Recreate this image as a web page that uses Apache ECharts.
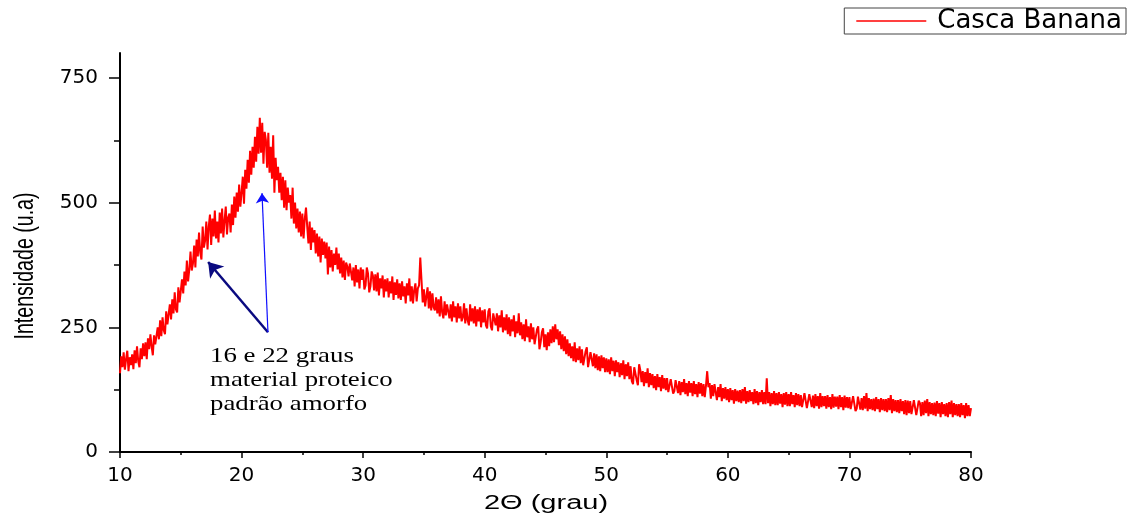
<!DOCTYPE html>
<html>
<head>
<meta charset="utf-8">
<script src="https://cdn.jsdelivr.net/npm/echarts@6/dist/echarts.min.js"></script>
<style>
html,body{margin:0;padding:0;background:#fff;}
#chart{width:1136px;height:515px;}
</style>
</head>
<body>
<div id="chart"></div>
<script>
// ---- data ----
const seriesName = 'Casca Banana';
const twoThetaStart = 10;   // degrees
const twoThetaStep = 0.1;   // degrees between readings
// intensity readings (u.a), one row per degree, 10.0 .. 80.0
const intensity = [
  158,192,170,200,165,186,203,162,190,174, // 10
  196,166,204,178,212,182,170,208,186,218, // 11
  192,220,186,228,206,236,212,194,234,216, // 12
  216,250,226,264,232,270,244,236,282,256, // 13
  258,296,266,306,278,320,286,280,330,300, // 14
  304,346,318,362,334,384,342,366,402,364, // 15
  378,414,370,426,392,440,400,386,452,410, // 16
  424,462,406,452,476,415,468,432,484,428, // 17
  462,420,480,438,488,430,464,492,436,470, // 18
  478,440,496,455,512,470,520,482,536,492, // 19
  520,552,498,566,528,586,540,604,556,612, // 20
  570,632,582,652,598,670,600,660,578,642, // 21
  626,570,640,560,612,548,635,520,590,545, // 22
  572,520,560,505,552,490,545,485,530,500, // 23
  515,468,530,458,500,448,488,440,482,432, // 24
  478,428,468,490,452,418,462,405,450,420, // 25
  445,398,438,392,432,380,428,395,422,388, // 26
  420,356,412,370,405,362,398,375,410,366, // 27
  398,358,390,350,384,345,380,372,352,378, // 28
  382,344,370,332,375,340,366,328,370,345, // 29
  366,326,334,370,358,320,332,362,354,324, // 30
  356,322,360,314,348,328,354,310,346,322, // 31
  348,310,342,318,352,305,340,315,346,308, // 32
  338,305,342,312,332,298,338,314,348,302, // 33
  332,298,325,338,302,328,334,390,345,300, // 34
  326,292,312,330,288,322,284,318,290,284, // 35
  310,278,306,272,312,280,268,302,274,296, // 36
  300,268,296,262,302,270,292,260,298,268, // 37
  292,262,270,298,258,288,264,254,296,262, // 38
  288,258,292,252,286,262,290,250,284,260, // 39
  286,254,248,282,288,252,244,278,276,254, // 40
  278,242,274,250,284,240,270,244,276,236, // 41
  270,232,266,242,274,230,262,238,278,234, // 42
  260,226,256,222,266,230,252,220,258,226, // 43
  250,216,212,246,252,206,220,240,248,210, // 44
  236,204,240,212,246,218,252,220,256,226, // 45
  246,214,242,206,236,202,232,196,226,192, // 46
  218,188,212,182,220,180,208,184,212,178, // 47
  206,174,178,202,210,170,168,200,204,172, // 48
  198,168,196,164,192,162,194,168,190,160, // 49
  188,160,186,156,190,162,183,152,184,160, // 50
  180,150,178,154,184,146,176,152,180,146, // 51
  172,142,136,170,166,144,134,176,164,140, // 52
  162,132,160,138,168,130,158,134,156,128, // 53
  152,124,156,130,150,122,154,127,148,124, // 54
  148,120,124,146,150,117,122,144,146,118, // 55
  142,114,140,120,146,116,138,112,142,119, // 56
  138,112,142,116,136,110,140,117,138,112, // 57
  136,110,133,162,130,138,107,134,112,136, // 58
  132,104,130,110,136,102,128,107,130,104, // 59
  126,100,128,104,124, 97,126,102,123,100, // 60
  124, 98,126,102,130, 97,122,100,124,102, // 61
  120, 96,126, 98,122, 94,120,100,124, 96, // 62
  120, 96,148, 98,120, 92,118, 96,122, 94, // 63
  118, 94,120, 97,116, 90,118, 95,120, 92, // 64
  116, 92,120, 96,114, 90,118, 94,116, 92, // 65
  114, 90, 94,118,114, 88, 92,116,113, 90, // 66
  113, 88,116, 92,112, 87,118, 90,112, 92, // 67
  112, 87,114, 90,110, 86,116, 89,111, 91, // 68
  111, 86,114, 90,110, 84,113, 89,110, 88, // 69
  110, 86, 88,112,108, 82, 87,111,108, 85, // 70
  108, 84,112, 87,118, 82,108, 86,106, 84, // 71
  107, 82,110, 86,106, 80,108, 84,106, 82, // 72
  106, 80,108, 84,114, 78,106, 82,104, 80, // 73
  104, 78,106, 82,102, 76,104, 74,103, 78, // 74
  102, 76, 80,104,100, 74, 78,103, 98, 72, // 75
  100, 74,103, 78,106, 72,100, 76, 98, 74, // 76
   99, 72,102, 77, 98, 70,100, 76, 96, 72, // 77
   98, 70,100, 76,103, 70, 98, 74, 96, 72, // 78
   96, 70, 98, 74, 94, 68, 98, 72, 94, 72, // 79
   88                                      // 80
];
const xTickMin = 10, xTickMax = 80, xTickInterval = 10;
const yMajorTicks = [0, 250, 500, 750];
const yMinorTicks = [125, 375, 625];
const yAxisMax = 800;
const xAxisTitle = '2\u0398 (grau)';
const yAxisTitle = 'Intensidade (u.a)';
const annotationText = ['16 e 22 graus', 'material proteico', 'padrão amorfo'];
// annotation arrows in data space: [from, to]
const arrowNavy = [[22.17, 240], [17.25, 381]];
const arrowBlue = [[22.17, 240], [21.68, 519]];

// ---- build ----
const seriesData = intensity.map((v, i) => [+(twoThetaStart + i * twoThetaStep).toFixed(1), v]);

const chart = echarts.init(document.getElementById('chart'), null, {renderer: 'canvas'});
const tickFont = 'DejaVu Sans';
chart.setOption({
  animation: false,
  backgroundColor: '#ffffff',
  grid: {left: 120, right: 165, top: 53, bottom: 63, containLabel: false},
  legend: {
    data: [{name: seriesName, icon: 'rect'}],
    right: 10, top: 8,
    orient: 'horizontal',
    itemWidth: 70, itemHeight: 1.5, itemGap: 8,
    padding: [0, 4, 0, 12],
    borderColor: '#444', borderWidth: 1, borderRadius: 0,
    itemStyle: {color: '#ff0000'},
    textStyle: {fontFamily: tickFont, fontSize: 26, color: '#000', padding: [0, 0, 0, 6]}
  },
  xAxis: {
    type: 'value', min: xTickMin, max: xTickMax, interval: xTickInterval,
    axisLine: {show: true, onZero: false, lineStyle: {color: '#000', width: 2}},
    axisTick: {show: true, inside: false, length: 6, lineStyle: {color: '#000', width: 1.5}},
    minorTick: {show: true, splitNumber: 2, length: 3, lineStyle: {color: '#000', width: 1.5}},
    axisLabel: {fontFamily: tickFont, fontSize: 20, color: '#000', margin: 14},
    splitLine: {show: false}
  },
  yAxis: [{
    type: 'value', min: 0, max: yAxisMax,
    axisLine: {show: true, onZero: false, lineStyle: {color: '#000', width: 2}},
    axisTick: {show: true, inside: false, length: 11, customValues: yMajorTicks, lineStyle: {color: '#000', width: 1.5}},
    axisLabel: {fontFamily: tickFont, fontSize: 20, color: '#000', margin: 22, customValues: yMajorTicks},
    splitLine: {show: false}
  }, {
    type: 'value', min: 0, max: yAxisMax, position: 'left', offset: 0,
    axisLine: {show: false},
    axisTick: {show: true, inside: false, length: 6, customValues: yMinorTicks, lineStyle: {color: '#000', width: 1.5}},
    axisLabel: {show: false},
    splitLine: {show: false}
  }],
  series: [{
    name: seriesName,
    type: 'line',
    data: seriesData,
    showSymbol: false, symbol: 'none',
    sampling: null,
    lineStyle: {color: '#ff0000', width: 2},
    itemStyle: {color: '#ff0000'},
    z: 3,
    markLine: {
      silent: true,
      symbol: ['none', 'arrow'],
      label: {show: false},
      emphasis: {disabled: true},
      data: [
        [{coord: arrowNavy[0], symbolSize: 0}, {coord: arrowNavy[1], symbolSize: 14,
          lineStyle: {color: '#0a0a80', width: 2.5, type: 'solid'}, itemStyle: {color: '#0a0a80'}}],
        [{coord: arrowBlue[0], symbolSize: 0}, {coord: arrowBlue[1], symbolSize: 10,
          lineStyle: {color: '#1010ff', width: 1.2, type: 'solid'}, itemStyle: {color: '#1010ff'}}]
      ],
      lineStyle: {type: 'solid'}
    }
  }],
  graphic: [{
    type: 'text', x: 210, y: 344, scaleX: 1.22, z: 10,
    style: {text: annotationText.join('\n'), font: '22px "Liberation Serif"', lineHeight: 24, fill: '#000'}
  }, {
    type: 'text', x: 546, y: 503, scaleX: 1.45, z: 10,
    style: {text: xAxisTitle, font: '20px "Liberation Sans"', fill: '#000', align: 'center', verticalAlign: 'middle'}
  }, {
    type: 'text', x: 25, y: 266, rotation: Math.PI / 2, scaleX: 0.7, z: 10,
    style: {text: yAxisTitle, font: '28px "Liberation Sans"', fill: '#000', align: 'center', verticalAlign: 'middle'}
  }]
});
</script>
</body>
</html>
